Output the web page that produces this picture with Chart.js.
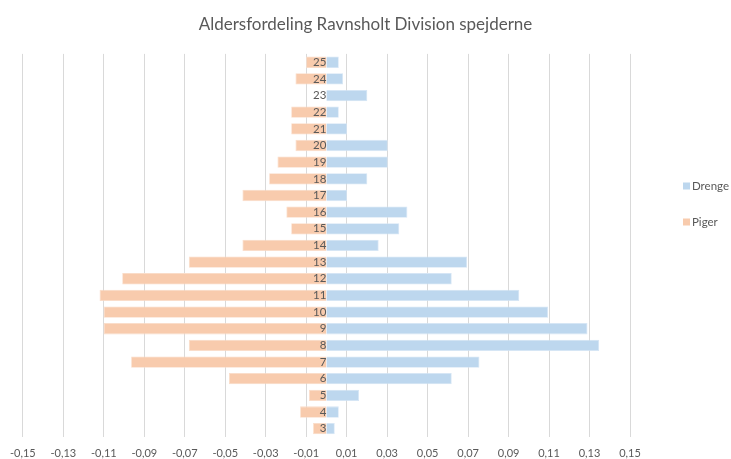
<!DOCTYPE html>
<html>
<head>
<meta charset="utf-8">
<script src="https://cdn.jsdelivr.net/npm/chart.js@4.4.0/dist/chart.umd.min.js"></script>
<style>
  html, body { margin: 0; padding: 0; background: #ffffff; }
  #wrap { width: 731px; height: 459px; position: relative; }
</style>
</head>
<body>
<div id="wrap"><canvas id="c"></canvas></div>
<script>
// Ages (categories), bottom to top
const ages = ['3','4','5','6','7','8','9','10','11','12','13','14','15','16','17','18','19','20','21','22','23','24','25'];
// Share of boys (right side)
const drenge = [0.0041, 0.0061, 0.0161, 0.0619, 0.0756, 0.1348, 0.129, 0.1095, 0.0953, 0.0619, 0.0695, 0.0258, 0.036, 0.040, 0.0102, 0.0202, 0.0303, 0.0303, 0.0102, 0.0061, 0.0202, 0.0082, 0.0061];
// Share of girls (left side, plotted negative)
const piger = [-0.0066, -0.013, -0.0086, -0.0482, -0.0965, -0.068, -0.1101, -0.1101, -0.1121, -0.1009, -0.068, -0.0415, -0.0174, -0.0198, -0.0415, -0.0283, -0.0242, -0.0153, -0.0174, -0.0174, 0, -0.0153, -0.0100];
// X tick values
const xTicks = [-0.15, -0.13, -0.11, -0.09, -0.07, -0.05, -0.03, -0.01, 0.01, 0.03, 0.05, 0.07, 0.09, 0.11, 0.13, 0.15];
const seriesNames = ['Drenge', 'Piger'];
const seriesColors = ['#BDD7EE', '#F8CBAD'];

const FONT = "Lato, 'Open Sans', sans-serif";
const TXT = '#595959';

const sideLegend = {
  id: 'sideLegend',
  afterDraw(chart) {
    const ctx = chart.ctx;
    ctx.save();
    ctx.font = '11.5px ' + FONT;
    ctx.textBaseline = 'middle';
    ctx.textAlign = 'left';
    const ys = [186, 222];
    chart.data.datasets.forEach((ds, i) => {
      ctx.fillStyle = ds.backgroundColor;
      ctx.fillRect(683, ys[i] - 3.5, 7, 7);
      ctx.fillStyle = TXT;
      ctx.fillText(ds.label, 692, ys[i]);
    });
    ctx.restore();
  }
};

// invisible spacer axes reserving room on the sides
const spacer = (pos, w) => ({
  type: 'linear', position: pos, display: true,
  grid: { display: false, drawTicks: false }, border: { display: false },
  ticks: { display: false },
  afterFit(s) { s.width = w; }
});

new Chart(document.getElementById('c'), {
  type: 'bar',
  data: {
    labels: ages,
    datasets: [
      { label: seriesNames[0], data: drenge, backgroundColor: seriesColors[0], borderColor: '#D5E5F5', borderWidth: 0.8 },
      { label: seriesNames[1], data: piger, backgroundColor: seriesColors[1], borderColor: '#FADCC8', borderWidth: 0.8 }
    ]
  },
  options: {
    indexAxis: 'y',
    responsive: true,
    maintainAspectRatio: false,
    animation: false,
    layout: { padding: 0 },
    datasets: { bar: { categoryPercentage: 1, barPercentage: 0.68 } },
    scales: {
      x: {
        stacked: true,
        min: -0.15,
        max: 0.15,
        afterBuildTicks(scale) { scale.ticks = xTicks.map(v => ({ value: v })); },
        afterFit(scale) { scale.height = 22; },
        grid: { color: '#D9D9D9', lineWidth: 1, drawTicks: false },
        border: { display: false },
        ticks: {
          color: TXT,
          font: { family: FONT, size: 11 },
          padding: 10,
          maxRotation: 0,
          autoSkip: false,
          callback: (v) => v.toFixed(2).replace('.', ',')
        }
      },
      y: {
        stacked: true,
        reverse: true,
        position: { x: 0 },
        grid: { display: false, drawTicks: false },
        border: { display: false },
        ticks: {
          z: 1,
          color: TXT,
          font: { family: FONT, size: 11.5 },
          padding: 6,
          autoSkip: false
        }
      },
      padL: spacer('left', 22.6),
      padR: spacer('right', 101)
    },
    plugins: {
      legend: { display: false },
      tooltip: { enabled: false },
      title: {
        display: true,
        text: 'Aldersfordeling Ravnsholt Division spejderne',
        color: TXT,
        font: { family: FONT, size: 17, weight: 'normal' },
        padding: { top: 14, bottom: 19.5 }
      }
    }
  },
  plugins: [sideLegend]
});
</script>
</body>
</html>
